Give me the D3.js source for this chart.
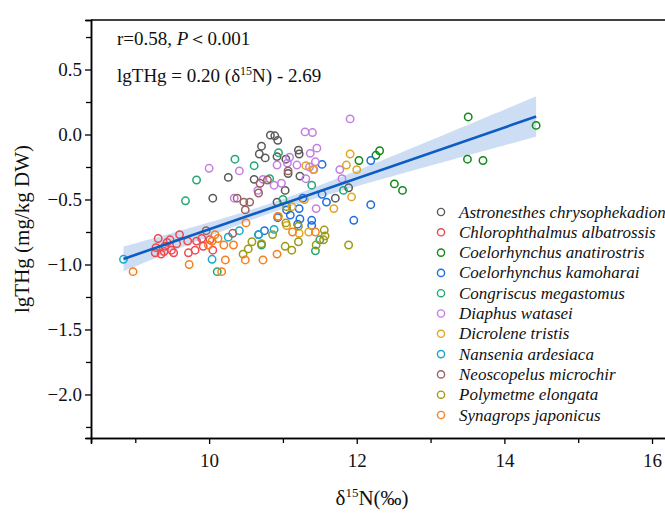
<!DOCTYPE html>
<html><head><meta charset="utf-8">
<script src="https://cdn.jsdelivr.net/npm/d3@7"></script>
<style>body{margin:0;background:#fff}svg{display:block}</style>
</head><body>
<svg id="c" width="665" height="513"></svg>
<script>
// ---------- data ----------
const speciesNames = ["Astronesthes chrysophekadion","Chlorophthalmus albatrossis","Coelorhynchus anatirostris","Coelorhynchus kamoharai","Congriscus megastomus","Diaphus watasei","Dicrolene tristis","Nansenia ardesiaca","Neoscopelus microchir","Polymetme elongata","Synagrops japonicus"];
const speciesColors = ["#5a5a5a","#f0484d","#11891b","#1f6fe0","#22a872","#c47fe2","#e3a324","#17a9c9","#9b6262","#9d9a14","#f77f1e"];

const astronesthes = [[10.83,-0.005],[10.89,-0.01],[10.93,-0.045],[10.71,-0.09],[10.68,-0.15],[10.76,-0.18],[10.92,-0.17],[11.04,-0.19],[10.61,-0.345],[10.26,-0.33],[10.05,-0.49],[11.21,-0.12],[11.22,-0.15],[11.03,-0.43],[11.23,-0.32],[11.71,-0.49],[11.89,-0.41],[10.92,-0.52],[11.07,-0.30]];
const chlorophthalmus = [[9.27,-0.91],[9.31,-0.80],[9.28,-0.87],[9.35,-0.92],[9.39,-0.90],[9.40,-0.86],[9.43,-0.83],[9.47,-0.81],[9.49,-0.89],[9.52,-0.91],[9.60,-0.77],[9.71,-0.82],[9.72,-0.91],[9.81,-0.89],[9.83,-0.82],[9.90,-0.80],[9.92,-0.86],[10.01,-0.81],[10.05,-0.89],[9.56,-0.84]];
const anatirostris = [[12.03,-0.20],[12.26,-0.16],[12.31,-0.125],[12.51,-0.38],[12.62,-0.43],[13.51,0.135],[13.50,-0.19],[13.71,-0.20],[14.43,0.07]];
const kamoharai = [[10.67,-0.77],[10.75,-0.74],[10.93,-0.64],[11.10,-0.62],[11.20,-0.69],[11.22,-0.57],[11.23,-0.65],[11.27,-0.49],[11.39,-0.66],[11.39,-0.70],[11.53,-0.46],[11.59,-0.52],[11.53,-0.23],[11.96,-0.66],[12.19,-0.20],[12.19,-0.54],[11.05,-0.58]];
const congriscus = [[9.68,-0.51],[9.83,-0.35],[10.35,-0.19],[10.61,-0.24],[10.94,-0.14],[10.82,-0.34],[11.00,-0.50],[11.39,-0.39],[10.71,-0.85],[11.44,-0.895],[11.50,-0.81],[10.11,-1.055],[11.82,-0.43]];
const diaphus = [[11.91,0.12],[11.30,0.02],[11.40,0.015],[11.46,-0.105],[11.37,-0.145],[11.44,-0.21],[11.09,-0.175],[11.06,-0.22],[11.19,-0.235],[10.92,-0.235],[11.41,-0.27],[11.31,-0.34],[11.77,-0.27],[11.80,-0.34],[10.73,-0.345],[10.66,-0.43],[10.88,-0.39],[10.98,-0.375],[10.00,-0.26],[10.41,-0.28],[10.34,-0.49],[11.45,-0.57],[11.36,-0.25]];
const dicrolene = [[11.91,-0.15],[11.86,-0.235],[12.00,-0.27],[11.93,-0.48],[11.69,-0.57],[11.29,-0.50],[11.12,-0.555],[11.42,-0.27],[11.31,-0.24],[10.94,-0.63],[11.05,-0.70],[11.35,-0.75],[11.22,-0.76]];
const nansenia = [[8.84,-0.96],[10.04,-0.96],[10.26,-0.79],[10.41,-0.74],[10.67,-0.77],[10.88,-0.73]];
const neoscopelus = [[9.96,-0.74],[10.38,-0.49],[10.47,-0.52],[10.55,-0.52],[10.49,-0.58],[10.67,-0.45],[10.69,-0.375],[10.79,-0.35],[11.07,-0.28],[10.32,-0.76]];
const polymetme = [[10.46,-0.92],[10.53,-0.88],[10.58,-0.825],[10.71,-0.84],[10.86,-0.77],[11.03,-0.86],[11.12,-0.89],[11.21,-0.825],[11.04,-0.68],[11.21,-0.705],[11.45,-0.85],[11.56,-0.735],[11.57,-0.78],[11.55,-0.81],[11.89,-0.85],[11.05,-0.555]];
const synagrops = [[8.97,-1.055],[9.73,-1.0],[9.99,-0.85],[10.04,-0.82],[10.08,-0.77],[10.12,-0.80],[10.17,-1.055],[10.22,-0.965],[10.33,-0.85],[10.49,-0.965],[10.50,-0.68],[10.73,-0.965],[10.92,-0.92],[10.93,-0.63],[11.13,-0.75],[11.44,-0.75],[10.20,-0.85]];
const speciesData = [astronesthes,chlorophthalmus,anatirostris,kamoharai,congriscus,diaphus,dicrolene,nansenia,neoscopelus,polymetme,synagrops];

const xMajorTicks = [10,12,14,16];
const xMinorTicks = [9,11,13,15];
const yMajorTicks = [0.5,0.0,-0.5,-1.0,-1.5,-2.0];
const yMinorTicks = [0.75,0.25,-0.25,-0.75,-1.25,-1.75,-2.25];
const fitSlope = 0.196, fitIntercept = -2.69;
const statText = "r=0.58, ";
const eqText = "lgTHg = 0.20 (δ";

// ---------- layout ----------
const svg = d3.select("#c");
const L = 91, T = 20, B = 438, R = 700;
const x = d3.scaleLinear().domain([8.4, 16.65]).range([L, R]);
const y = d3.scaleLinear().domain([-2.335, 0.881]).range([B, T]);
const serif = "'Liberation Serif','Times New Roman',serif";

// confidence band
const all = speciesData.flat();
const n = all.length;
const xm = d3.mean(all, d => d[0]);
const sxx = d3.sum(all, d => (d[0]-xm)**2);
const s = Math.sqrt(d3.sum(all, d => (d[1]-(fitSlope*d[0]+fitIntercept))**2)/(n-2));
const tval = 1.97;
const xMin = d3.min(all,d=>d[0]), xMax = d3.max(all,d=>d[0]);
const xs = d3.range(0, 101).map(i => xMin + i/100*(xMax-xMin));
const band = xs.map(v => {
  const h = tval*s*Math.sqrt(1/n + (v-xm)**2/sxx);
  const c = fitSlope*v+fitIntercept;
  return [v, c-h, c+h];
});
svg.append("path")
  .attr("d", d3.area().x(d=>x(d[0])).y0(d=>y(d[1])).y1(d=>y(d[2]))(band))
  .attr("fill", "#cddef4");

// points
speciesData.forEach((arr, i) => {
  svg.append("g").selectAll("circle").data(arr).join("circle")
    .attr("cx", d => x(d[0])).attr("cy", d => y(d[1])).attr("r", 3.7)
    .attr("fill", "none").attr("stroke", speciesColors[i]).attr("stroke-width", 1.5);
});

// fit line
svg.append("path")
  .attr("d", d3.line().x(d=>x(d[0])).y(d=>y(fitSlope*d[0]+fitIntercept))([band[0], band[band.length-1]]))
  .attr("stroke", "#0d5cc2").attr("stroke-width", 2.6).attr("fill", "none");

// frame
svg.append("line").attr("x1", L).attr("x2", 665).attr("y1", T).attr("y2", T).attr("stroke","#000").attr("stroke-width",1.5);

svg.append("g").attr("transform", `translate(0,${B})`)
  .call(d3.axisBottom(x).tickValues(xMajorTicks).tickSize(6).tickPadding(10).tickFormat(d3.format("d")));
svg.append("g").attr("transform", `translate(0,${B})`)
  .call(d3.axisBottom(x).tickValues(xMinorTicks).tickSize(5).tickFormat(""));
svg.append("g").attr("transform", `translate(${L},0)`)
  .call(d3.axisLeft(y).tickValues(yMajorTicks).tickSize(6).tickPadding(3).tickFormat(d => d3.format(".1f")(d).replace("-", "\u2212")));
svg.append("g").attr("transform", `translate(${L},0)`)
  .call(d3.axisLeft(y).tickValues(yMinorTicks).tickSize(5).tickFormat(""));
svg.selectAll(".domain").attr("stroke","#000").attr("stroke-width",1.5);
svg.selectAll(".tick line").attr("stroke","#000").attr("stroke-width",1.3);
svg.selectAll(".tick text").attr("font-family", serif).attr("font-size", 19).attr("fill","#111");

// axis titles
svg.append("text").attr("x", 372).attr("y", 505).attr("text-anchor","middle")
  .attr("font-family", serif).attr("font-size", 21).attr("fill","#111")
  .call(t => { t.append("tspan").text("δ"); t.append("tspan").attr("font-size",13).attr("dy",-8).text("15"); t.append("tspan").attr("dy",8).text("N(‰)"); });
svg.append("text").attr("transform", "translate(29,229) rotate(-90)").attr("text-anchor","middle")
  .attr("font-family", serif).attr("font-size", 21).attr("fill","#111").text("lgTHg (mg/kg DW)");

// annotations
svg.append("text").attr("x", 117).attr("y", 45).attr("font-family", serif).attr("font-size", 19).attr("fill","#111")
  .call(t => { t.append("tspan").text(statText); t.append("tspan").attr("font-style","italic").text("P"); t.append("tspan").text("\uFF1C0.001"); });
svg.append("text").attr("x", 117).attr("y", 82).attr("font-family", serif).attr("font-size", 19).attr("fill","#111")
  .call(t => { t.append("tspan").text(eqText); t.append("tspan").attr("font-size",12).attr("dy",-7).text("15"); t.append("tspan").attr("dy",7).text("N) - 2.69"); });

// legend
const lg = svg.append("g");
speciesNames.forEach((name, i) => {
  const yy = 212 + i*20.3;
  lg.append("circle").attr("cx", 441).attr("cy", yy).attr("r", 3.6).attr("fill","none").attr("stroke", speciesColors[i]).attr("stroke-width",1.4);
  lg.append("text").attr("x", 459).attr("y", yy+5.5).attr("font-family", serif).attr("font-style","italic").attr("font-size", 17).attr("fill","#111").text(name);
});
</script>
</body></html>
